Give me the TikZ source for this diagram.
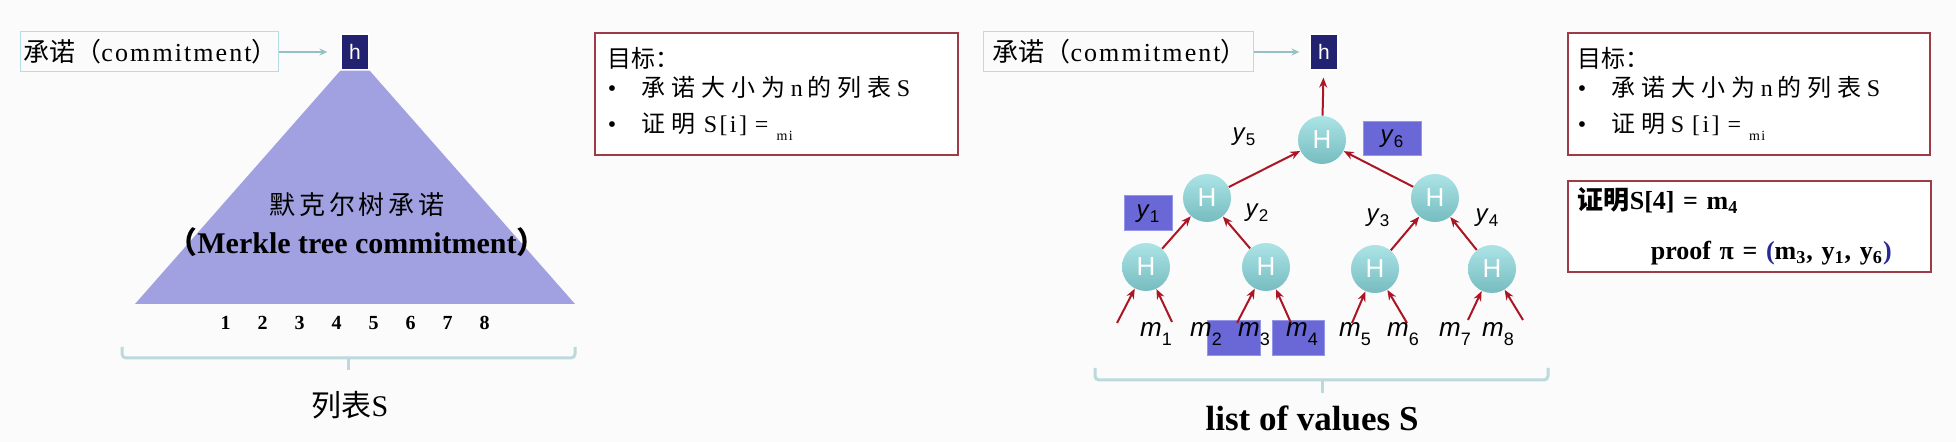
\documentclass[tikz,border=0pt]{standalone}
\usepackage{fontspec}
\setmainfont{Liberation Serif}
\setsansfont{Liberation Sans}
\newfontfamily\cjk{Noto Sans CJK SC}
\newfontfamily\cjkwide{Noto Sans CJK SC}[LetterSpace=15]
\newfontfamily\cjkgoal{Noto Sans CJK SC}[LetterSpace=25]
\newfontfamily\rmwide{Liberation Serif}[LetterSpace=8]
\newfontfamily\rmgoal{Liberation Serif}[LetterSpace=10]
\usetikzlibrary{arrows.meta,positioning}

\definecolor{pagebg}{RGB}{251,251,251}
\definecolor{treefill}{RGB}{161,161,225}
\definecolor{hnavy}{RGB}{34,34,112}
\definecolor{lblcyan}{RGB}{178,222,228}
\definecolor{lblarrow}{RGB}{150,192,198}
\definecolor{bracecol}{RGB}{188,218,222}
\definecolor{boxred}{RGB}{155,60,72}
\definecolor{arrred}{RGB}{172,22,36}
\definecolor{pfblue}{RGB}{106,104,214}
\definecolor{pfedge}{RGB}{150,150,232}
\definecolor{hlight}{RGB}{172,228,230}
\definecolor{hdark}{RGB}{118,188,192}
\definecolor{parblue}{RGB}{40,40,150}

\newcommand{\zh}[1]{{\cjk #1}}
\newcommand{\zg}[1]{{\cjkgoal #1}}
\newcommand{\mlf}[1]{\textit{m}\raisebox{-0.6ex}{\fontsize{9}{10}\selectfont #1}}
\newcommand{\ylb}[1]{\textit{y}\raisebox{-0.4ex}{\fontsize{8.5}{10}\selectfont #1}}

\begin{document}
\begin{tikzpicture}[x=0.5pt, y=-0.5pt, >=Stealth,
    lblbox/.style={draw=lblcyan, line width=0.5pt, minimum height=20pt, align=left,
                   anchor=west, font=\fontsize{13}{15}\selectfont},
    hbox/.style={fill=hnavy, draw=white, line width=0.6pt, minimum width=14pt,
                 minimum height=18pt, inner sep=0pt, text=white,
                 font=\sffamily\fontsize{10.5}{12}\selectfont},
    hnode/.style={circle, minimum size=24pt, inner sep=0pt, top color=hlight,
                  bottom color=hdark, text=white, font=\sffamily\fontsize{13}{15}\selectfont},
    redarr/.style={-{Stealth[length=5pt,width=4pt]}, draw=arrred, line width=1pt},
    lblarr/.style={-{Stealth[length=4pt,width=3.5pt]}, draw=lblarrow, line width=0.8pt},
    pfbox/.style={fill=pfblue, draw=pfedge, line width=0.5pt, inner sep=0pt,
                  font=\sffamily\fontsize{12}{14}\selectfont},
    goalbox/.style={draw=boxred, line width=0.8pt, fill=white, anchor=north west,
                    align=left, font=\rmgoal\fontsize{12}{14.4}\selectfont},
    listbrace/.style={draw=bracecol, line width=1.5pt, rounded corners=2pt},
    ytext/.style={font=\sffamily\fontsize{12}{14}\selectfont},
    mtext/.style={font=\sffamily\fontsize{13}{15}\selectfont}]

  \fill[pagebg] (0,0) rectangle (1956,442);
  \useasboundingbox (0,0) rectangle (1956,442);

  % left: the whole tree as one triangle
  \node[lblbox, text width=126pt, inner xsep=1.5pt] (clabL) at (20,52)
       {\zh{承诺（}{\rmwide commitment}\zh{）}};
  \node[hbox] (hL) at (355,52) {h};
  \draw[lblarr, shorten >=6.5pt] (clabL) -- (hL);

  \fill[treefill] (hL.south west) -- (hL.south east) -- (575,304) -- (135,304) -- cycle;
  \node[font=\cjkwide\fontsize{13}{15}\selectfont] (mtzh) at (357,205) {默克尔树承诺};
  \node[font=\bfseries\fontsize{15}{17}\selectfont] (mten) at (357,242)
       {\zh{（}Merkle tree commitment\zh{）}};

  \node[font=\bfseries\fontsize{10}{12}\selectfont] (nums) at (355,323)
       {1\hspace{13.5pt}2\hspace{13.5pt}3\hspace{13.5pt}4\hspace{13.5pt}5\hspace{13.5pt}6\hspace{13.5pt}7\hspace{13.5pt}8};
  \draw[listbrace] (122,347) -- (122,358) -- (575,358) -- (575,347);
  \draw[listbrace] (348,358) -- (348,370);
  \node[font=\fontsize{15}{17}\selectfont] (listL) at (350,405) {\zh{列表}S};

  \node[goalbox, text width=168.5pt, inner xsep=6.5pt, minimum height=61pt] (goalL) at (594,32)
       {{\cjk 目标：}\\[0.3pt]
        \makebox[17pt][l]{\textbullet}\zg{承诺大小为}\hspace{2.5pt}n\hspace{2.5pt}\zg{的列表}\hspace{2.5pt}S\\[3.5pt]
        \makebox[17pt][l]{\textbullet}\zg{证明} S[i] = \raisebox{-0.7ex}{\scriptsize mi}};

  % right: the Merkle tree itself
  \node[lblbox, text width=126pt, inner xsep=4.5pt] (clabR) at (983,52)
       {\zh{承诺（}{\rmwide commitment}\zh{）}};
  \node[hbox] (hR) at (1324,52) {h};
  \draw[lblarr, shorten >=5pt] (clabR) -- (hR);

  \node[pfbox, minimum width=24pt, minimum height=17.5pt] (ybox1) at (1148,213.5) {\ylb{1}};
  \node[pfbox, minimum width=29pt, minimum height=17pt] (ybox6) at (1392,139) {\ylb{6}};
  \node[pfbox, minimum width=26.5pt, minimum height=17.5pt] (pf23) at (1233.5,338.5) {};
  \node[pfbox, minimum width=26pt, minimum height=17.5pt] (pf4) at (1298,338.5) {};

  \node[hnode] (r) at (1322,140) {H};
  \node[hnode] (a) at (1207,198) {H};
  \node[hnode] (b) at (1435,198) {H};
  \node[hnode] (a1) at (1146,267) {H};
  \node[hnode] (a2) at (1266,267) {H};
  \node[hnode] (b1) at (1375,269) {H};
  \node[hnode] (b2) at (1492,269) {H};

  \node[ytext] (ylab5) at (1244,137) {\ylb{5}};
  \node[ytext] (ylab2) at (1257,213) {\ylb{2}};
  \node[ytext] (ylab3) at (1378,218) {\ylb{3}};
  \node[ytext] (ylab4) at (1487,218) {\ylb{4}};

  \coordinate (lf1) at (1117,323);
  \coordinate (lf2) at (1172,322);
  \coordinate (lf3) at (1237,323);
  \coordinate (lf4) at (1291,323);
  \coordinate (lf5) at (1352,323);
  \coordinate (lf6) at (1407,323);
  \coordinate (lf7) at (1468,320);
  \coordinate (lf8) at (1523,320);

  \draw[redarr, shorten >=3.5pt] (r) -- (hR);
  \draw[redarr] (a) -- (r);
  \draw[redarr] (b) -- (r);
  \draw[redarr] (a1) -- (a);
  \draw[redarr] (a2) -- (a);
  \draw[redarr] (b1) -- (b);
  \draw[redarr] (b2) -- (b);
  \draw[redarr] (lf1) -- (a1);
  \draw[redarr] (lf2) -- (a1);
  \draw[redarr] (lf3) -- (a2);
  \draw[redarr] (lf4) -- (a2);
  \draw[redarr] (lf5) -- (b1);
  \draw[redarr] (lf6) -- (b1);
  \draw[redarr] (lf7) -- (b2);
  \draw[redarr] (lf8) -- (b2);

  \node[mtext] (m1) at (1156,334) {\mlf{1}};
  \node[mtext] (m2) at (1206,334) {\mlf{2}};
  \node[mtext] (m3) at (1254,334) {\mlf{3}};
  \node[mtext] (m4) at (1302,334) {\mlf{4}};
  \node[mtext] (m5) at (1355,334) {\mlf{5}};
  \node[mtext] (m6) at (1403,334) {\mlf{6}};
  \node[mtext] (m7) at (1455,334) {\mlf{7}};
  \node[mtext] (m8) at (1498,334) {\mlf{8}};

  \draw[listbrace] (1095,368) -- (1095,380) -- (1548,380) -- (1548,368);
  \draw[listbrace] (1322,380) -- (1322,393);
  \node[font=\bfseries\fontsize{17.5}{20}\selectfont] (listR) at (1312,418) {list of values S};

  \node[goalbox, text width=171pt, inner xsep=5pt, minimum height=61pt] (goalR) at (1567,32)
       {{\cjk 目标：}\\[0.3pt]
        \makebox[17pt][l]{\textbullet}\zg{承诺大小为}\hspace{2.5pt}n\hspace{2.5pt}\zg{的列表}\hspace{2.5pt}S\\[3.5pt]
        \makebox[17pt][l]{\textbullet}\zg{证明}\hspace{2.5pt}S [i] = \raisebox{-0.7ex}{\scriptsize mi}};
  \node[goalbox, text width=171.5pt, inner xsep=5pt, minimum height=44pt,
        font=\bfseries\fontsize{13}{15.6}\selectfont] (proof) at (1567,180)
       {\zh{证明}S[4] = m\textsubscript{4}\\[9.4pt]
        \hspace*{36.5pt}proof π = {\color{parblue}(}m\textsubscript{3}, y\textsubscript{1}, y\textsubscript{6}{\color{parblue})}};

\end{tikzpicture}
\end{document}
